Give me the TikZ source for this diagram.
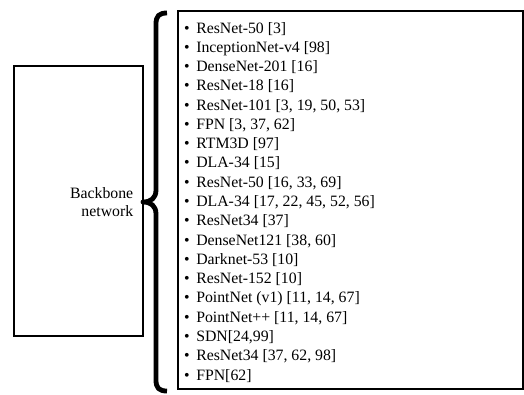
\documentclass[tikz,border=0pt]{standalone}
\usepackage{fontspec}
\setmainfont{Liberation Serif}
\begin{document}
\begin{tikzpicture}[x=0.75pt,y=-0.75pt,
  frame/.style={draw=black,line width=1.2pt},
  itemtext/.style={anchor=base west,inner sep=0pt,font=\fontsize{11.85}{14}\selectfont},
  bullet/.style={anchor=base,inner sep=0pt,font=\fontsize{11.85}{14}\selectfont},
  label/.style={align=right,inner sep=0pt,font=\fontsize{11.85}{13.5}\selectfont},
  bracestroke/.style={draw=black,line width=3.6pt,line join=round}]
\useasboundingbox (0,0) rectangle (524,394);

% left box with its label
\node[frame,minimum width=96.75pt,minimum height=202.5pt,inner sep=0pt] (bbbox) at (78.5,201) {};
\node[label,anchor=east] (bbtext) at (133.5,202) {Backbone\\network};

% right box holding the list
\node[frame,minimum width=258.75pt,minimum height=283.5pt,inner sep=0pt] (listbox) at (350.5,200) {};

% curly brace
\draw[bracestroke] (167,13) .. controls (159,13) and (156,16) .. (156,24)
  -- (156,190) .. controls (156,198) and (151,202) .. (143,202)
  .. controls (151,202) and (156,206) .. (156,214)
  -- (156,380) .. controls (156,388) and (159,391) .. (167,391);

% list entries
\foreach \txt [count=\i] in {ResNet-50 [3], InceptionNet-v4 [98], DenseNet-201 [16],
  ResNet-18 [16], {ResNet-101 [3, 19, 50, 53]}, {FPN [3, 37, 62]}, RTM3D [97],
  DLA-34 [15], {ResNet-50 [16, 33, 69]}, {DLA-34 [17, 22, 45, 52, 56]}, ResNet34 [37],
  {DenseNet121 [38, 60]}, Darknet-53 [10], ResNet-152 [10], {PointNet (v1) [11, 14, 67]},
  {PointNet++ [11, 14, 67]}, {SDN[24,99]}, {ResNet34 [37, 62, 98]}, FPN[62]} {
  \pgfmathsetmacro{\yy}{33+(\i-1)*19.28}
  \node[bullet] (b\i) at (187,\yy) {\textbullet};
  \node[itemtext] (t\i) at (196,\yy) {\txt};
}
\end{tikzpicture}
\end{document}
